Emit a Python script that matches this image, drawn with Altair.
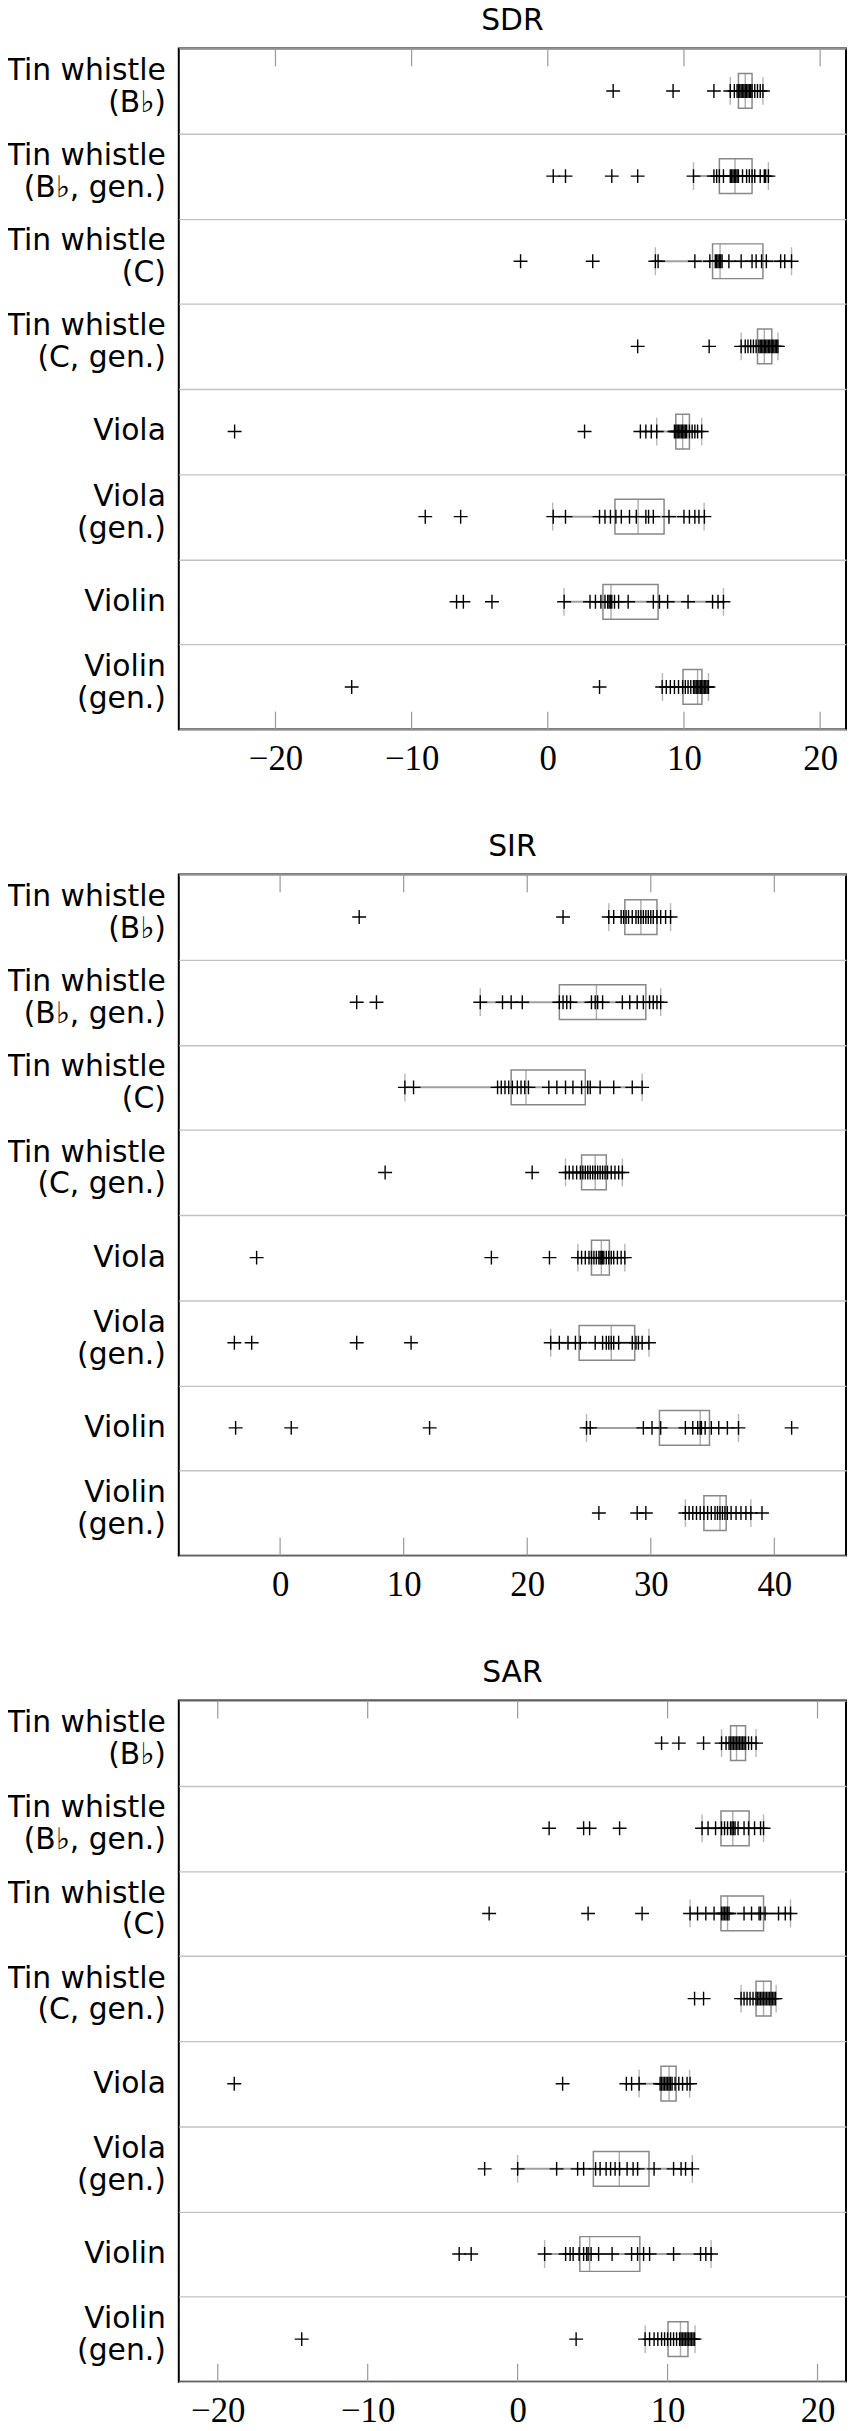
import altair as alt
import pandas as pd

categories = [
    "Tin whistle\n(B\u266d)", "Tin whistle\n(B\u266d, gen.)", "Tin whistle\n(C)",
    "Tin whistle\n(C, gen.)", "Viola", "Viola\n(gen.)", "Violin", "Violin\n(gen.)",
]
metrics = ["SDR", "SIR", "SAR"]

# ---------------- SDR ----------------
sdr_points = [
    [4.8, 9.2, 12.2, 13.4, 13.7, 13.9, 14.0, 14.1, 14.2, 14.3, 14.4, 14.5, 14.6, 14.7, 14.8, 14.9, 15.0, 15.2, 15.4, 15.6, 15.8],
    [0.4, 1.3, 4.7, 6.6, 10.7, 12.2, 12.4, 12.6, 12.9, 13.4, 13.5, 13.6, 13.7, 13.8, 13.9, 14.0, 14.3, 14.6, 14.8, 15.0, 15.2, 15.6, 15.9, 16.0, 16.2],
    [-2.0, 3.3, 7.9, 8.1, 10.8, 11.9, 12.3, 12.4, 12.5, 12.6, 12.7, 12.8, 13.3, 14.2, 15.0, 15.3, 15.7, 16.05, 17.1, 17.4, 17.9],
    [6.6, 11.85, 14.2, 14.5, 14.7, 14.9, 15.1, 15.3, 15.5, 15.6, 15.7, 15.8, 15.9, 16.0, 16.1, 16.2, 16.3, 16.4, 16.5, 16.6, 16.7, 16.8, 16.9],
    [-23.0, 2.7, 6.8, 7.2, 7.6, 8.0, 9.3, 9.4, 9.5, 9.6, 9.7, 9.8, 9.9, 10.0, 10.1, 10.2, 10.4, 10.6, 10.8, 11.0, 11.3],
    [-9.0, -6.4, 0.4, 1.3, 3.8, 4.2, 4.6, 5.0, 5.4, 6.0, 6.5, 7.2, 7.4, 7.75, 8.9, 10.0, 10.4, 10.8, 11.1, 11.5],
    [-6.7, -6.2, -4.1, 1.2, 3.1, 3.5, 3.9, 4.2, 4.4, 4.5, 4.6, 4.7, 4.9, 5.2, 5.9, 7.75, 8.2, 8.8, 10.3, 12.1, 12.5, 12.9],
    [-14.4, 3.8, 8.4, 8.7, 9.0, 9.3, 9.6, 9.9, 10.1, 10.3, 10.5, 10.7, 10.8, 10.9, 11.0, 11.1, 11.2, 11.3, 11.4, 11.5, 11.6, 11.7, 11.8],
]
sdr_q1 = [14.0, 12.6, 12.1, 15.4, 9.4, 4.93, 4.05, 9.93]
sdr_median = [14.5, 13.75, 12.65, 15.9, 9.9, 6.63, 4.64, 11.0]
sdr_q3 = [15.0, 15.0, 15.8, 16.45, 10.4, 8.54, 8.1, 11.32]
sdr_whisker_lo = [13.4, 10.7, 7.9, 14.2, 8.0, 0.36, 1.19, 8.42]
sdr_whisker_hi = [15.8, 16.2, 17.9, 16.9, 11.3, 11.48, 12.9, 11.8]
sdr_domain = [-27.1, 21.9]
sdr_ticks = [-20, -10, 0, 10, 20]

# ---------------- SIR ----------------
sir_points = [
    [6.4, 22.9, 26.6, 27.0, 27.6, 27.8, 28.0, 28.2, 28.5, 28.8, 29.0, 29.2, 29.4, 29.6, 29.8, 30.0, 30.2, 30.5, 30.8, 31.2, 31.6],
    [6.2, 7.8, 16.2, 18.0, 18.7, 19.6, 22.6, 22.9, 23.2, 23.5, 25.2, 25.5, 25.7, 26.1, 27.7, 28.3, 28.9, 29.4, 29.9, 30.2, 30.5, 30.8],
    [10.1, 10.8, 17.6, 17.9, 18.2, 18.5, 18.8, 19.2, 19.5, 19.8, 20.1, 21.75, 22.4, 23.1, 23.7, 24.4, 24.9, 25.1, 25.9, 27.0, 28.5, 29.3],
    [8.5, 20.4, 23.1, 23.4, 23.7, 24.0, 24.3, 24.5, 24.7, 24.9, 25.1, 25.3, 25.5, 25.7, 25.9, 26.1, 26.3, 26.5, 26.8, 27.1, 27.4, 27.7],
    [-1.9, 17.1, 21.8, 24.1, 24.4, 24.7, 25.0, 25.2, 25.4, 25.6, 25.8, 25.9, 26.0, 26.1, 26.2, 26.4, 26.6, 26.8, 27.0, 27.3, 27.6, 27.9],
    [-3.7, -2.3, 6.2, 10.6, 21.9, 22.6, 23.3, 23.9, 24.3, 25.5, 26.1, 26.4, 26.6, 26.8, 27.0, 27.4, 28.5, 28.8, 29.0, 29.3, 29.85],
    [-3.6, 0.9, 12.1, 24.8, 25.1, 29.4, 30.1, 30.8, 32.8, 33.4, 33.8, 34.0, 34.1, 34.4, 34.9, 35.5, 36.2, 37.1, 41.4],
    [25.8, 28.9, 29.6, 32.8, 33.1, 33.4, 33.7, 34.0, 34.3, 34.6, 34.9, 35.2, 35.4, 35.6, 35.8, 36.0, 36.2, 36.5, 36.9, 37.3, 37.7, 38.1, 39.0],
]
sir_q1 = [27.9, 22.6, 18.7, 24.4, 25.2, 24.2, 30.7, 34.3]
sir_median = [29.2, 25.6, 19.9, 25.5, 26.0, 26.8, 34.0, 35.6]
sir_q3 = [30.5, 29.6, 24.7, 26.4, 26.65, 28.7, 34.75, 36.1]
sir_whisker_lo = [26.6, 16.2, 10.1, 23.1, 24.1, 21.9, 24.8, 32.8]
sir_whisker_hi = [31.6, 30.8, 29.3, 27.7, 27.9, 29.85, 37.1, 38.1]
sir_domain = [-8.2, 45.8]
sir_ticks = [0, 10, 20, 30, 40]

# ---------------- SAR ----------------
sar_points = [
    [9.6, 10.75, 12.4, 13.6, 13.9, 14.1, 14.2, 14.3, 14.4, 14.5, 14.6, 14.7, 14.8, 14.9, 15.0, 15.1, 15.2, 15.4, 15.6, 15.9],
    [2.1, 4.4, 4.8, 6.8, 12.3, 12.7, 13.2, 13.6, 13.8, 14.0, 14.2, 14.3, 14.4, 14.5, 14.7, 15.1, 15.4, 15.8, 16.2, 16.4],
    [-1.9, 4.7, 8.3, 11.5, 12.0, 12.55, 13.1, 13.6, 13.7, 13.8, 13.9, 14.0, 14.1, 15.1, 15.6, 16.1, 16.2, 16.5, 17.4, 17.85, 18.2],
    [11.8, 12.4, 14.9, 15.1, 15.3, 15.5, 15.7, 15.9, 16.0, 16.1, 16.2, 16.3, 16.4, 16.5, 16.6, 16.7, 16.8, 16.9, 17.0, 17.1, 17.2],
    [-18.9, 3.0, 7.25, 7.6, 8.1, 9.5, 9.6, 9.7, 9.8, 9.9, 10.0, 10.1, 10.2, 10.3, 10.5, 10.75, 11.0, 11.3, 11.5],
    [-2.2, 0.0, 2.6, 4.0, 4.4, 5.2, 5.5, 5.9, 6.2, 6.5, 6.8, 7.3, 7.7, 8.0, 9.1, 10.4, 10.9, 11.2, 11.65],
    [-3.9, -3.1, 1.8, 3.2, 3.5, 3.7, 4.1, 4.4, 4.6, 4.7, 4.9, 5.4, 6.3, 7.6, 8.0, 8.4, 8.8, 10.4, 12.2, 12.55, 12.9],
    [-14.4, 3.9, 8.5, 8.8, 9.1, 9.35, 9.6, 9.8, 10.0, 10.2, 10.4, 10.6, 10.8, 10.9, 11.0, 11.1, 11.2, 11.3, 11.4, 11.5, 11.6, 11.7, 11.8],
]
sar_q1 = [14.2, 13.56, 13.56, 15.9, 9.56, 5.05, 4.15, 10.03]
sar_median = [14.6, 14.35, 14.0, 16.4, 10.1, 6.78, 4.8, 10.86]
sar_q3 = [15.2, 15.44, 16.4, 16.9, 10.57, 8.76, 8.15, 11.36]
sar_whisker_lo = [13.6, 12.3, 11.5, 14.9, 8.1, 0.0, 1.8, 8.51]
sar_whisker_hi = [15.9, 16.4, 18.2, 17.24, 11.47, 11.65, 12.9, 11.83]
sar_domain = [-22.6, 21.9]
sar_ticks = [-20, -10, 0, 10, 20]

W = 672
H = 686
TICK_LEN = 18
LABEL_FONT = "DejaVu Sans"
NUM_FONT = "Liberation Serif"
PLUS = "M-1,0L1,0M0,-1L0,1"
LINE_H = 32


def panel(name, points, q1, med, q3, wlo, whi, domain, ticks):
    pts = pd.DataFrame([{"cat": c, "v": v} for c, vals in zip(categories, points) for v in vals])
    box = pd.DataFrame({"cat": categories, "q1": q1, "med": med, "q3": q3, "wlo": wlo, "whi": whi})
    labels = pd.DataFrame({"cat": categories, "multi": ["\n" in c for c in categories]})
    tk = pd.DataFrame({"t": ticks})
    ttl_df = pd.DataFrame({"name": [name]})

    xs = alt.Scale(domain=domain, nice=False, zero=False)
    ys = alt.Scale(type="band", domain=categories, paddingInner=0, paddingOuter=0)
    yaxis = alt.Axis(
        title=None, labels=False, ticks=False, domain=False, grid=True,
        gridColor="#c2c2c2", gridWidth=1.4, tickBand="extent",
    )
    xaxis = alt.Axis(
        title=None, values=ticks, ticks=False, domain=False, grid=False,
        labelFont=NUM_FONT, labelFontSize=35, labelColor="black", labelPadding=12,
    )
    X = lambda f: alt.X(f, scale=xs, axis=xaxis, title=None)
    Y = alt.Y("cat:N", scale=ys, axis=yaxis, sort=categories, title=None)

    base = alt.Chart(box)
    boxes = base.mark_bar(size=35, fillOpacity=0, stroke="#888888", strokeWidth=1.5).encode(
        x=X("q1:Q"), x2="q3:Q", y=Y,
    )
    whisk = base.mark_rule(color="#a0a0a0", strokeWidth=2).encode(
        x=X("wlo:Q"), x2="whi:Q", y=Y,
    )
    cap_lo = base.mark_tick(size=28, thickness=1.4, color="#999999").encode(x=X("wlo:Q"), y=Y)
    cap_hi = base.mark_tick(size=28, thickness=1.4, color="#999999").encode(x=X("whi:Q"), y=Y)
    median = base.mark_tick(size=35, thickness=1.4, color="#888888").encode(x=X("med:Q"), y=Y)
    dots = alt.Chart(pts).mark_point(
        shape=PLUS, size=196, filled=False, color="black", strokeWidth=1.4, opacity=1
    ).encode(x=X("v:Q"), y=Y)
    tick_top = alt.Chart(tk).mark_rule(color="#999999", strokeWidth=1.2).encode(
        x=X("t:Q"), y=alt.value(0), y2=alt.value(TICK_LEN),
    )
    tick_bot = alt.Chart(tk).mark_rule(color="#999999", strokeWidth=1.2).encode(
        x=X("t:Q"), y=alt.value(H - TICK_LEN), y2=alt.value(H),
    )
    txt_props = dict(align="right", baseline="middle", font=LABEL_FONT, fontSize=30,
                     color="black", lineBreak="\n", lineHeight=LINE_H)
    lab2 = alt.Chart(labels).transform_filter("datum.multi").mark_text(
        dy=-20, **txt_props
    ).encode(y=Y, x=alt.value(-13), text="cat:N")
    lab1 = alt.Chart(labels).transform_filter("!datum.multi").mark_text(
        dy=0, **txt_props
    ).encode(y=Y, x=alt.value(-13), text="cat:N")
    ttl = alt.Chart(ttl_df).mark_text(
        align="center", baseline="alphabetic", font=LABEL_FONT, fontSize=30, color="black",
    ).encode(x=alt.value(W / 2), y=alt.value(-19), text="name:N")
    return alt.layer(
        boxes, whisk, cap_lo, cap_hi, median, dots, tick_top, tick_bot, lab2, lab1, ttl
    ).properties(width=W, height=H)


chart = alt.vconcat(
    panel(metrics[0], sdr_points, sdr_q1, sdr_median, sdr_q3, sdr_whisker_lo, sdr_whisker_hi, sdr_domain, sdr_ticks),
    panel(metrics[1], sir_points, sir_q1, sir_median, sir_q3, sir_whisker_lo, sir_whisker_hi, sir_domain, sir_ticks),
    panel(metrics[2], sar_points, sar_q1, sar_median, sar_q3, sar_whisker_lo, sar_whisker_hi, sar_domain, sar_ticks),
    spacing=146, bounds="flush",
).properties(
    padding={"left": -3, "top": -12, "right": 0, "bottom": 0}, background="white",
).configure_view(stroke="black", strokeWidth=2)

chart.save("out.html", embed_options={"renderer": "svg", "actions": False})
